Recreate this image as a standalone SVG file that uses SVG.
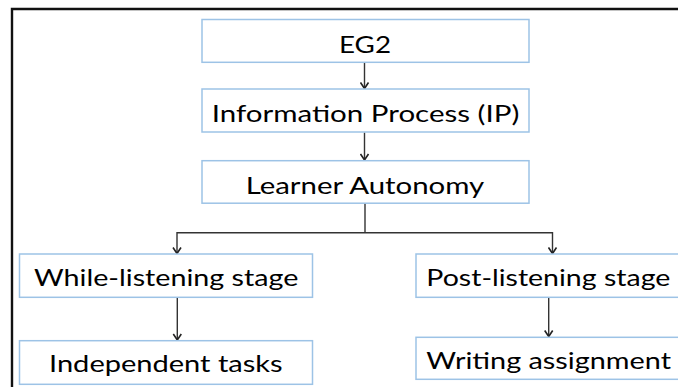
<svg xmlns="http://www.w3.org/2000/svg" width="678" height="387" viewBox="0 0 678 387">
  <style>
    .box { fill: #ffffff; stroke: #9dc3e6; stroke-width: 1.5; }
    .label { font-family: Lato, "Open Sans", "Liberation Sans", sans-serif; font-size: 23px; fill: #000000; }
    .link { fill: none; stroke: #333333; stroke-width: 1.4; }
    .frame { fill: none; stroke: #111111; stroke-width: 2.4; }
  </style>
  <defs>
    <!-- open arrowhead, drawn along +x so orient="auto" follows the line -->
    <marker id="arrow" viewBox="0 0 10 10" refX="9" refY="5" markerWidth="10" markerHeight="10" markerUnits="userSpaceOnUse" orient="auto">
      <path d="M3,1 L9,5 L3,9" fill="none" stroke="#222222" stroke-width="1.6"/>
    </marker>
  </defs>

  <rect width="678" height="387" fill="#ffffff"/>

  <!-- outer frame, open to the right and bottom -->
  <path class="frame" d="M12,387 V9 H678"/>

  <!-- connectors -->
  <g id="connectors">
    <path class="link" d="M364.5,62.5 V88.5" marker-end="url(#arrow)"/>
    <path class="link" d="M364.5,132.5 V160" marker-end="url(#arrow)"/>
    <path class="link" d="M365,203 V232.7"/>
    <path class="link" d="M365,232.7 H177 V253.5" marker-end="url(#arrow)"/>
    <path class="link" d="M365,232.7 H552.5 V253.5" marker-end="url(#arrow)"/>
    <path class="link" d="M177.3,297.5 V340" marker-end="url(#arrow)"/>
    <path class="link" d="M548.7,297.5 V336.5" marker-end="url(#arrow)"/>
  </g>

  <g id="node-eg2">
    <rect class="box" x="202" y="19.5" width="327" height="42.8"/>
    <text class="label" x="339" y="53.3" textLength="52" lengthAdjust="spacingAndGlyphs">EG2</text>
  </g>

  <g id="node-information-process">
    <rect class="box" x="202" y="89" width="327" height="43"/>
    <text class="label" x="211.7" y="121.8" textLength="307.6" lengthAdjust="spacingAndGlyphs">Information Process (IP)</text>
  </g>

  <g id="node-learner-autonomy">
    <rect class="box" x="202" y="160.7" width="327" height="42.5"/>
    <text class="label" x="245.7" y="194" textLength="238.6" lengthAdjust="spacingAndGlyphs">Learner Autonomy</text>
  </g>

  <g id="node-while-listening">
    <rect class="box" x="19.5" y="254" width="293" height="43.3"/>
    <text class="label" x="34" y="285.7" textLength="264.3" lengthAdjust="spacingAndGlyphs">While-listening stage</text>
  </g>

  <g id="node-independent-tasks">
    <rect class="box" x="19.5" y="340.7" width="293" height="43.6"/>
    <text class="label" x="49" y="371.7" textLength="233.7" lengthAdjust="spacingAndGlyphs">Independent tasks</text>
  </g>

  <g id="node-post-listening">
    <rect class="box" x="416" y="254" width="290" height="43.3"/>
    <text class="label" x="426.3" y="285.7" textLength="244" lengthAdjust="spacingAndGlyphs">Post-listening stage</text>
  </g>

  <g id="node-writing-assignment">
    <rect class="box" x="416" y="337.3" width="290" height="42"/>
    <text class="label" x="426.3" y="368.7" textLength="244.7" lengthAdjust="spacingAndGlyphs">Writing assignment</text>
  </g>
</svg>
